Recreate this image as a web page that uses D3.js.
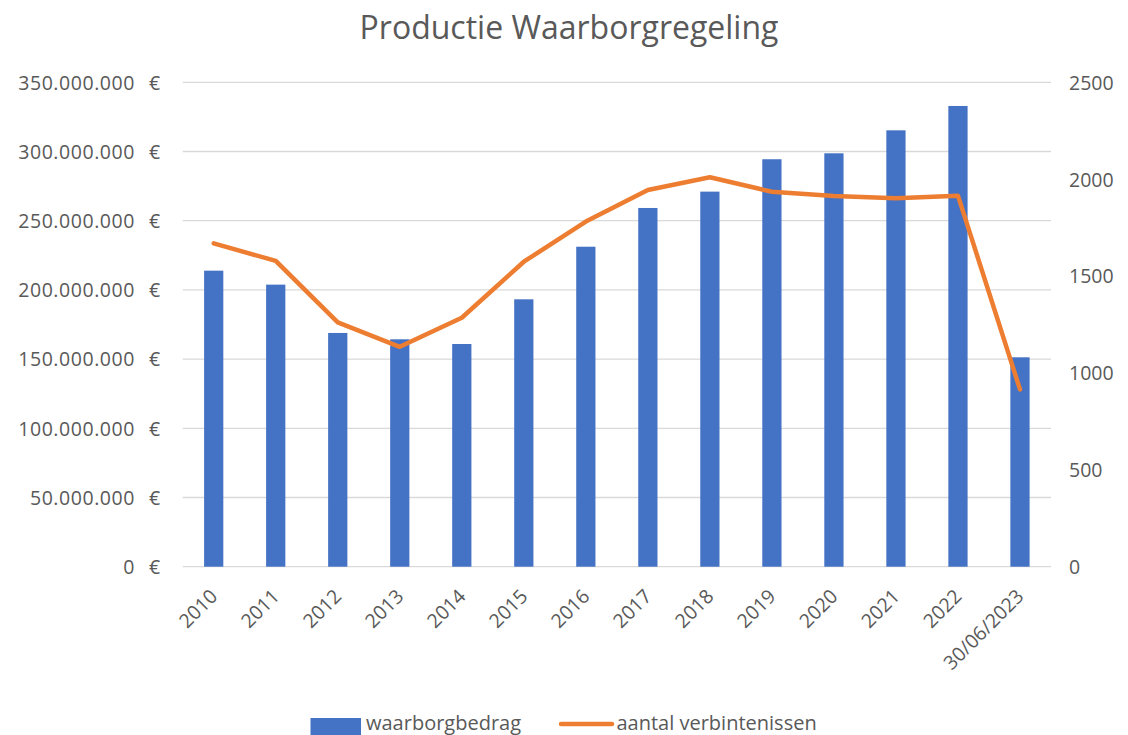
<!DOCTYPE html>
<html><head><meta charset="utf-8">
<script src="https://cdn.jsdelivr.net/npm/d3@7"></script>
<style>body{margin:0;background:#fff}</style>
</head><body>
<svg id="c" width="1128" height="735"></svg>
<script>
const categories = ["2010","2011","2012","2013","2014","2015","2016","2017","2018","2019","2020","2021","2022","30/06/2023"];
const waarborgbedrag = [213900000,203800000,168900000,164300000,160900000,193200000,231200000,259200000,271000000,294400000,298700000,315300000,332900000,151300000];
const verbintenissen = [1669,1578,1261,1135,1285,1574,1781,1944,2010,1935,1913,1901,1915,915];
const leftTicks = [0,50000000,100000000,150000000,200000000,250000000,300000000,350000000];
const rightTicks = [0,500,1000,1500,2000,2500];
const title = "Productie Waarborgregeling";
const legendLabels = ["waarborgbedrag","aantal verbintenissen"];

const FONT = "'Open Sans', sans-serif";
const TXT = "#595959";
const FS = 19.5;
const svg = d3.select("#c");
const L = 182.7, R = 1051, T = 82.3, B = 566.7;

const x = d3.scaleBand().domain(categories).range([L, R]).paddingInner(0.69).paddingOuter(0.345);
const yL = d3.scaleLinear().domain([0, 350000000]).range([B, T]);
const yR = d3.scaleLinear().domain([0, 2500]).range([B, T]);

// gridlines
svg.append("g").selectAll("line").data(leftTicks).join("line")
  .attr("x1", L).attr("x2", R).attr("y1", d => yL(d)).attr("y2", d => yL(d))
  .attr("stroke", "#d9d9d9").attr("stroke-width", 1.3);

// bars
svg.append("g").selectAll("rect").data(waarborgbedrag).join("rect")
  .attr("x", (d, i) => x(categories[i])).attr("width", x.bandwidth())
  .attr("y", d => yL(d)).attr("height", d => B - yL(d))
  .attr("fill", "#4472c4");

// line
const line = d3.line().x((d, i) => x(categories[i]) + x.bandwidth() / 2).y(d => yR(d));
svg.append("path").datum(verbintenissen).attr("d", line)
  .attr("fill", "none").attr("stroke", "#ed7d31").attr("stroke-width", 4.5)
  .attr("stroke-linejoin", "round").attr("stroke-linecap", "round");

// left axis
const fmt = d => d3.format(",")(d).replace(/,/g, ".") + "\u2002\u2009€";
const la = svg.append("g").attr("transform", `translate(${L - 22},0)`)
  .call(d3.axisLeft(yL).tickValues(leftTicks).tickFormat(fmt).tickSize(0).tickPadding(0));
la.select(".domain").remove();
la.selectAll("text").attr("font-family", FONT).attr("font-size", FS).attr("fill", TXT)
  .attr("dy", "0.35em").attr("letter-spacing", 0.55);

// right axis
const ra = svg.append("g").attr("transform", `translate(${R + 18},0)`)
  .call(d3.axisRight(yR).tickValues(rightTicks).tickFormat(d3.format("d")).tickSize(0).tickPadding(0));
ra.select(".domain").remove();
ra.selectAll("text").attr("font-family", FONT).attr("font-size", FS).attr("fill", TXT).attr("dy", "0.35em");

// x axis
const xa = svg.append("g").attr("transform", `translate(0,${B})`)
  .call(d3.axisBottom(x).tickSize(0).tickPadding(0));
xa.select(".domain").remove();
xa.selectAll("text").attr("font-family", FONT).attr("font-size", FS).attr("fill", TXT)
  .attr("text-anchor", "end").attr("dy", null).attr("y", 0)
  .attr("transform", "translate(5,31) rotate(-45)");

// title
svg.append("text").attr("x", 569).attr("y", 38.5).attr("text-anchor", "middle")
  .attr("font-family", FONT).attr("font-size", 32).attr("fill", TXT).text(title);

// legend
const lg = svg.append("g");
lg.append("rect").attr("x", 310.5).attr("y", 718).attr("width", 50.5).attr("height", 17).attr("fill", "#4472c4");
lg.append("text").attr("x", 366).attr("y", 730).attr("font-family", FONT).attr("font-size", 20).attr("fill", TXT).text(legendLabels[0]);
lg.append("line").attr("x1", 561).attr("x2", 612).attr("y1", 724).attr("y2", 724)
  .attr("stroke", "#ed7d31").attr("stroke-width", 4.5).attr("stroke-linecap", "round");
lg.append("text").attr("x", 616.5).attr("y", 730).attr("font-family", FONT).attr("font-size", 20).attr("fill", TXT).text(legendLabels[1]);
</script>
</body></html>
